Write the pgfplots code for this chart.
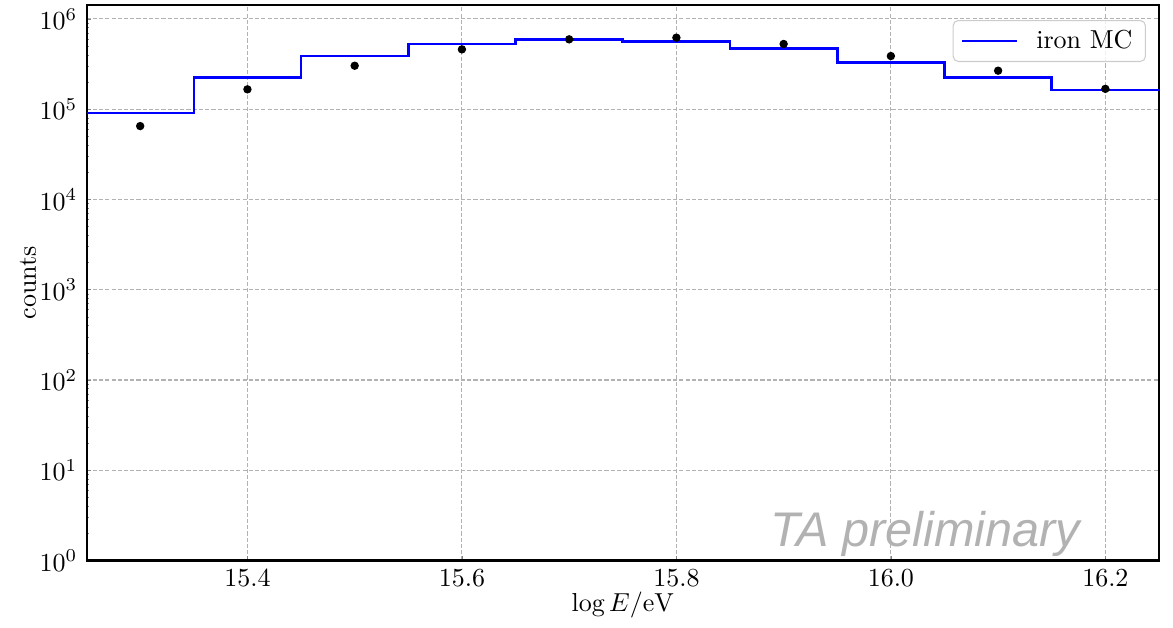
\documentclass[border=0pt]{standalone}
\usepackage{fontspec}
\usepackage{pgfplots}
\pgfplotsset{compat=1.18}
\usetikzlibrary{calc}
\newfontfamily\tafont{Liberation Sans}

\begin{document}
\begin{tikzpicture}
\begin{axis}[
 scale only axis, width=412.5pt, height=213.5pt,
 xmin=15.25, xmax=16.25, ymode=log, ymin=1, ymax=1.41e6,
 xtick={15.4,15.6,15.8,16.0,16.2},
 xticklabel style={/pgf/number format/.cd,fixed,fixed zerofill,precision=1},
 ytick={1,10,100,1000,10000,100000,1000000},
 tick align=inside, xtick pos=bottom, ytick pos=left,
 major tick length=1.8pt, minor tick length=1.1pt,
 grid=major,
 major grid style={black!30, dash pattern=on 1.6pt off 0.8pt, line width=0.4pt},
 axis line style={line width=0.8pt},
 xlabel={$\log E/\mathrm{eV}$}, ylabel={counts},
 xlabel style={at={(axis description cs:0.5,0)}, anchor=center, yshift=-17pt},
 ylabel style={at={(axis description cs:0,0.5)}, anchor=center, yshift=22.5pt},
 legend style={at={(axis description cs:1,1)}, anchor=north east, xshift=-5pt, yshift=-5.6pt,
   draw=black!20, rounded corners=2pt, fill=white, fill opacity=0.8, text opacity=1,
   inner xsep=3pt, inner ysep=1.6pt,
   /tikz/every odd column/.append style={column sep=5pt}},
 legend image code/.code={\draw[#1, line width=1pt] (0pt,0pt) -- (21pt,0pt);},
]
\addplot[blue, line width=1pt, const plot mark left] coordinates {
 (15.25,9.1e4) (15.35,2.25e5) (15.45,3.88e5) (15.55,5.28e5) (15.65,5.94e5)
 (15.75,5.6e5) (15.85,4.72e5) (15.95,3.3e5) (16.05,2.25e5) (16.15,1.63e5) (16.25,1.63e5)
};
\addlegendentry{iron MC}
\addplot[only marks, mark=*, mark size=1.4pt, black, forget plot] coordinates {
 (15.3,6.5e4) (15.4,1.66e5) (15.5,3.03e5) (15.6,4.6e5) (15.7,5.94e5)
 (15.8,6.2e5) (15.9,5.28e5) (16.0,3.88e5) (16.1,2.67e5) (16.2,1.68e5)
};
\node[anchor=base east, inner sep=0pt, text=black!30, font=\tafont\itshape\fontsize{18.7}{20}\selectfont]
  at (axis cs:16.177,1.43) {TA preliminary};
\end{axis}
\pgfresetboundingbox
\path ($(current axis.south west)+(-33.3pt,-25.6pt)$) rectangle ($(current axis.north east)+(5.4pt,2.1pt)$);
\end{tikzpicture}
\end{document}
